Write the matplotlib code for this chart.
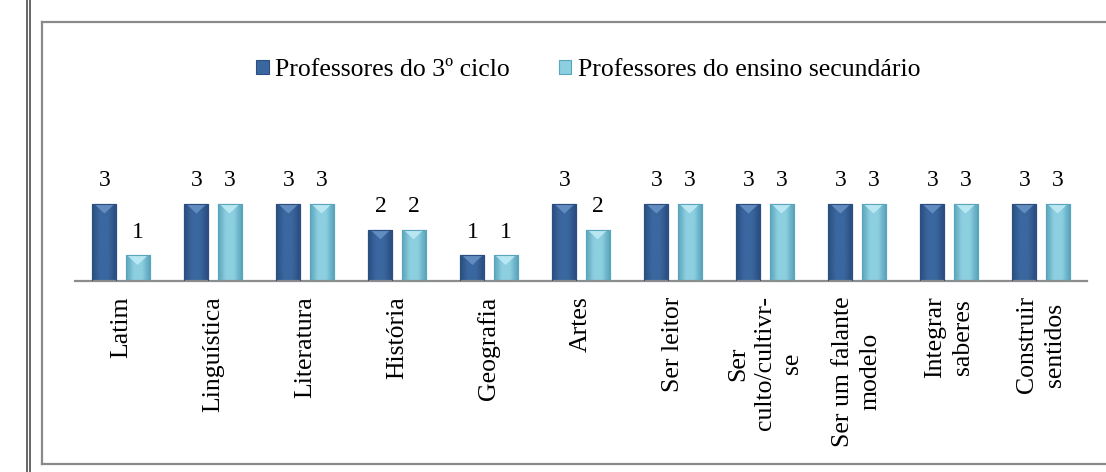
import matplotlib
matplotlib.use("Agg")
import matplotlib.pyplot as plt
import numpy as np
from matplotlib.lines import Line2D
from matplotlib.patches import Rectangle, Polygon

plt.rcParams['font.family'] = ['Liberation Serif', 'DejaVu Serif']

categories = ["Latim", "Linguística", "Literatura", "História", "Geografia", "Artes",
              "Ser leitor", "Ser\nculto/cultivr-\nse", "Ser um falante\nmodelo",
              "Integrar\nsaberes", "Construir\nsentidos"]
series_names = ["Professores do 3º ciclo", "Professores do ensino secundário"]
prof_3ciclo = [3, 3, 3, 2, 1, 3, 3, 3, 3, 3, 3]
prof_secundario = [1, 3, 3, 2, 1, 2, 3, 3, 3, 3, 3]

W, H = 1106, 472
fig = plt.figure(figsize=(W / 100, H / 100), dpi=100)

# page frame: double vertical line at left
for xpx in (26.5, 29.5):
    fig.add_artist(Line2D([xpx / W, xpx / W], [0, 1], color="#5a5a5a", lw=1.3,
                          transform=fig.transFigure))
# chart border box
x0, y0 = 42 / W, 1 - 464 / H
y1 = 1 - 22 / H
fig.add_artist(Line2D([x0, x0], [y0, y1], color="#8a8a8a", lw=1.6, transform=fig.transFigure))
fig.add_artist(Line2D([x0, 1.0], [y1, y1], color="#8a8a8a", lw=1.6, transform=fig.transFigure))
fig.add_artist(Line2D([x0, 1.0], [y0, y0], color="#8a8a8a", lw=1.6, transform=fig.transFigure))

ax = fig.add_axes([75 / W, (H - 281) / H, (1087 - 75) / W, 103 / H])
ax.set_xlim(-0.5, len(categories) - 0.5)
ax.set_ylim(0, 4)

x = np.arange(len(categories))
bw = 0.26
off = 0.18

colors = [("#2a4f80", "#3b67a0", "#6a92c6"), ("#5aa4bc", "#8ccfe0", "#c0ecf6")]
for vals, sign, (edge_c, mid_c, hi_c), name in zip(
        [prof_3ciclo, prof_secundario], [-1, 1], colors, series_names):
    bars = ax.bar(x + sign * off, vals, width=bw, color=mid_c, edgecolor=edge_c,
                  linewidth=0.8, label=name, zorder=2)
    cmap = matplotlib.colors.LinearSegmentedColormap.from_list("g", [edge_c, mid_c, mid_c, edge_c])
    grad = np.linspace(0, 1, 64).reshape(1, -1)
    for b in bars:
        bx, by, bwid, bh = b.get_x(), b.get_y(), b.get_width(), b.get_height()
        im = ax.imshow(grad, cmap=cmap, aspect="auto", extent=[bx, bx + bwid, by, by + bh],
                       zorder=2.5)
        im.set_clip_path(b)
        # top bevel highlight (downward triangle)
        tri_h = 0.38
        tri = Polygon([[bx + bwid * 0.1, by + bh - 0.03], [bx + bwid * 0.9, by + bh - 0.03],
                       [bx + bwid / 2, by + bh - tri_h]], closed=True,
                      facecolor=hi_c, edgecolor="none", alpha=0.85, zorder=3)
        ax.add_patch(tri)
        ax.add_patch(Rectangle((bx, by), bwid, bh, facecolor="none", edgecolor=edge_c,
                               lw=0.8, zorder=3.2))
    for b, v in zip(bars, vals):
        ax.annotate(str(v), (b.get_x() + b.get_width() / 2, v), xytext=(0, 9),
                    textcoords="offset points", ha="center", va="bottom",
                    fontsize=17, color="black")

ax.set_xticks(x)
ax.set_xticklabels(categories, rotation=90, fontsize=18.5, ha="center", va="top",
                   multialignment="center", linespacing=1.3)
ax.tick_params(axis="x", length=0, pad=11)
ax.set_yticks([])
for s in ("top", "right", "left"):
    ax.spines[s].set_visible(False)
ax.spines["bottom"].set_color("#8c8c8c")
ax.spines["bottom"].set_linewidth(1.6)
ax.patch.set_alpha(0)

handles = [Rectangle((0, 0), 1, 1, facecolor=c[1], edgecolor=c[0], lw=0.8) for c in colors]
fig.legend(handles, series_names, loc="center", bbox_to_anchor=(588 / W, 1 - 70 / H),
           ncol=2, frameon=False, fontsize=18.5, handlelength=0.5, handleheight=0.5,
           handletextpad=0.25, columnspacing=1.9, borderaxespad=0)

fig.savefig("out.png", dpi=100)
